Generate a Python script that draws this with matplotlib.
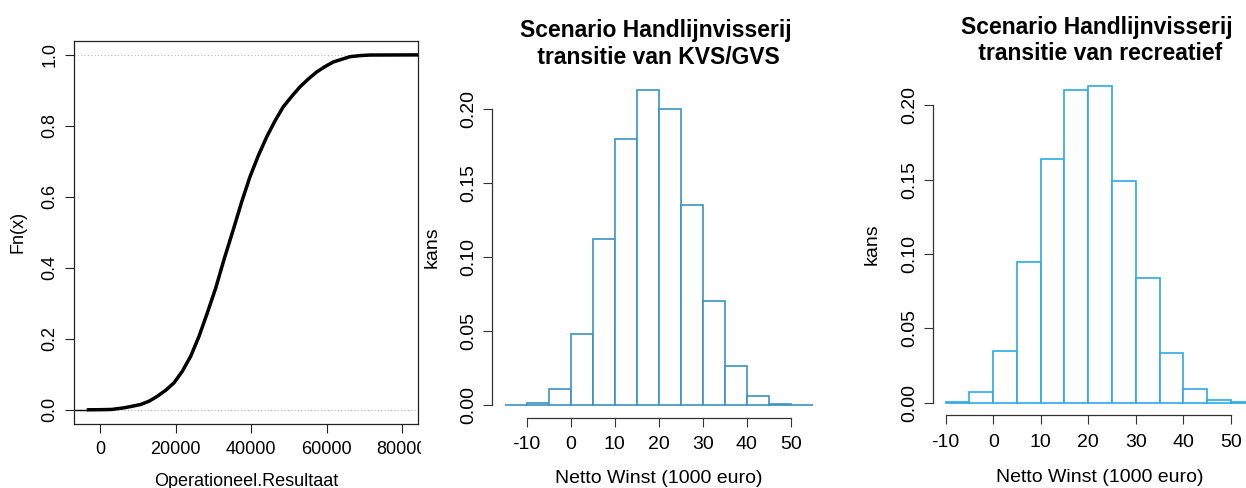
import numpy as np
import matplotlib
matplotlib.use("Agg")
import matplotlib.pyplot as plt
from matplotlib.patches import Rectangle

plt.rcParams['font.family'] = ['Liberation Sans', 'DejaVu Sans']

# empirical cdf of operationeel resultaat (x in euro, Fn(x))
op_x = [-3600, 0, 3000, 6300, 8490, 10700, 12920, 15100, 17350, 19550, 21750,
        23980, 26180, 28380, 30610, 32800, 35400, 37500, 39710, 41910, 44140,
        46340, 48540, 50770, 52970, 55170, 57400, 59600, 61800, 64030, 66230,
        68880, 71540, 84300]
op_F = [0.0, 0.0003, 0.001, 0.0056, 0.0101, 0.015, 0.0242, 0.038, 0.0551, 0.076,
        0.1085, 0.151, 0.207, 0.273, 0.343, 0.423, 0.512, 0.586, 0.657, 0.716,
        0.769, 0.814, 0.854, 0.883, 0.910, 0.932, 0.952, 0.967, 0.980, 0.9875,
        0.995, 0.998, 0.9996, 1.0]
op_xticks = [0, 20000, 40000, 60000, 80000]
op_yticks = [0.0, 0.2, 0.4, 0.6, 0.8, 1.0]

# netto winst histograms (1000 euro), probability per bin of width 5
kvs_edges = [-15, -10, -5, 0, 5, 10, 15, 20, 25, 30, 35, 40, 45, 50, 55]
kvs_kans = [0.0002, 0.0014, 0.0106, 0.0477, 0.1124, 0.1795, 0.2128, 0.2000,
            0.1354, 0.0705, 0.0261, 0.0063, 0.0007, 0.0001]

rec_edges = [-10, -5, 0, 5, 10, 15, 20, 25, 30, 35, 40, 45, 50, 55]
rec_kans = [0.0004, 0.0070, 0.0345, 0.0944, 0.1641, 0.2105, 0.2128, 0.1493,
            0.0841, 0.0334, 0.0090, 0.0016, 0.0002]

hist_xticks = [-10, 0, 10, 20, 30, 40, 50]
hist_yticks = [0.00, 0.05, 0.10, 0.15, 0.20]

W, H = 1246, 488
fig = plt.figure(figsize=(W / 100, H / 100), dpi=100)


def px_axes(x0, x1, y0, y1):
    # axes from pixel box (top-left origin)
    return fig.add_axes([x0 / W, (H - y1) / H, (x1 - x0) / W, (y1 - y0) / H])


# --- panel 1: ecdf ---
ax1 = px_axes(74, 418, 40.7, 424)
ax1.set_xlim(-6980, 84270)
ax1.set_ylim(-0.04, 1.04)
for yv in (0.0, 1.0):
    ax1.axhline(yv, color='#b8b8b8', lw=0.8, ls=(0, (1, 2)), zorder=1)
ax1.plot([ax1.get_xlim()[0], op_x[0]], [0, 0], color='black', lw=1.0, zorder=2)
ax1.plot(op_x, op_F, color='black', lw=2.5, solid_capstyle='butt',
         solid_joinstyle='round', zorder=3)
ax1.set_xticks(op_xticks)
ax1.set_xticklabels([str(v) for v in op_xticks])
ax1.set_yticks(op_yticks)
ax1.set_yticklabels([f"{v:.1f}" for v in op_yticks], rotation=90, va='center')
ax1.tick_params(length=6.5, width=0.8, labelsize=13, pad=5.5, color='#222222')
ax1.tick_params(axis='y', pad=4.5)
for s in ax1.spines.values():
    s.set_linewidth(0.9)
    s.set_color('#222222')
ax1.set_xlabel("Operationeel.Resultaat", fontsize=13, va='center')
ax1.xaxis.set_label_coords(0.5, -0.149)
ax1.set_ylabel("Fn(x)", fontsize=13, va='center')
ax1.yaxis.set_label_coords(-0.164, 0.5)

# hide the part of the last tick label that runs past the panel
fig.add_artist(Rectangle((421 / W, (H - 464) / H), 7 / W, 30 / H,
                         transform=fig.transFigure, facecolor='white',
                         edgecolor='none', zorder=10))


def hist_panel(ax, edges, kans, color, title, title_y, label_x, label_y):
    edges = np.asarray(edges, dtype=float)
    kans = np.asarray(kans, dtype=float)
    pad_x = 0.04 * (edges[-1] - edges[0])
    ax.set_xlim(edges[0] - pad_x, edges[-1] + pad_x)
    top = kans.max()
    ax.set_ylim(-0.04 * top, 1.04 * top)
    ax.bar(edges[:-1], kans, width=np.diff(edges), align='edge',
           facecolor='white', edgecolor=color, linewidth=1.2)
    ax.set_xticks(hist_xticks)
    ax.set_xticklabels([str(v) for v in hist_xticks])
    ax.set_yticks(hist_yticks)
    ax.set_yticklabels([f"{v:.2f}" for v in hist_yticks], rotation=90, va='center')
    ax.tick_params(length=6.5, width=0.8, labelsize=14, pad=7, color='#333333')
    ax.tick_params(axis='y', pad=4)
    for side in ('top', 'right'):
        ax.spines[side].set_visible(False)
    ax.spines['bottom'].set_bounds(hist_xticks[0], hist_xticks[-1])
    ax.spines['left'].set_bounds(hist_yticks[0], hist_yticks[-1])
    for side in ('bottom', 'left'):
        ax.spines[side].set_linewidth(0.9)
        ax.spines[side].set_color('#333333')
    ax.set_title(title, fontsize=16.5, fontweight='bold', x=0.49, y=title_y,
                 va='bottom', linespacing=1.22)
    ax.set_xlabel("Netto Winst (1000 euro)", fontsize=14, va='center')
    ax.xaxis.set_label_coords(0.5, label_y)
    ax.set_ylabel("kans", fontsize=14, va='center')
    ax.yaxis.set_label_coords(label_x, 0.5)


ax2 = px_axes(492.3, 825, 77.5, 417.6)
hist_panel(ax2, kvs_edges, kvs_kans, '#3b94c0',
           "Scenario Handlijnvisserij\n transitie van KVS/GVS", 1.0, -0.181, -0.178)

ax3 = px_axes(933.3, 1267, 73.8, 415.3)
hist_panel(ax3, rec_edges, rec_kans, '#2eaae3',
           "Scenario Handlijnvisserij\n transitie van recreatief", 1.0, -0.184, -0.182)

fig.savefig("out.png", dpi=100, facecolor='white')
